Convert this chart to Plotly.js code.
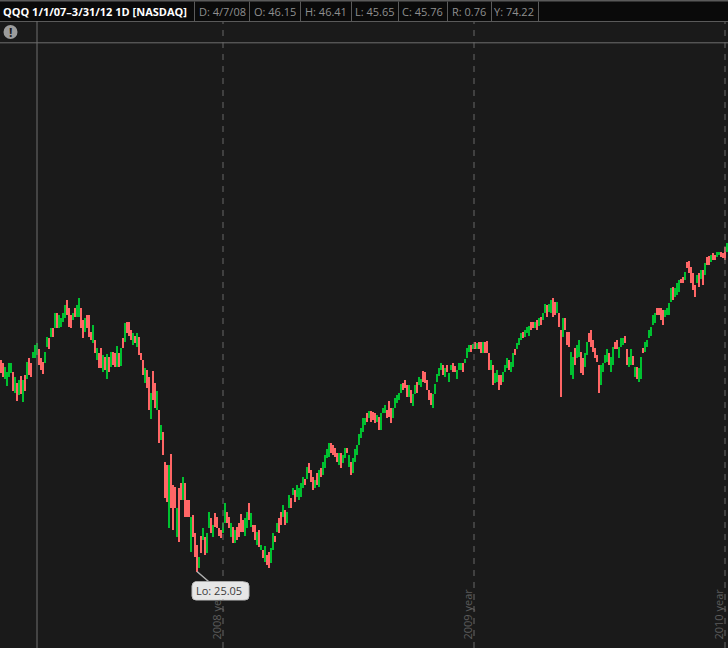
<!DOCTYPE html>
<html>
<head>
<meta charset="utf-8">
<script src="https://cdn.plot.ly/plotly-3.0.1.min.js"></script>
<style>html,body{margin:0;padding:0;background:#1a1a1a;overflow:hidden}#chart{width:728px;height:648px}</style>
</head>
<body>
<div id="chart"></div>
<script>
var highs = [
44.7,44.4,44.1,43.6,44.4,44.4,43.6,43.1,42.6,42.9,
43.2,42.9,43.3,44.5,44.9,44.4,45.5,46.1,46.3,45.7,
44.9,44.5,45.5,46.9,46.8,47.7,47.7,49.1,49.1,48.9,
48.6,49.1,49.8,50.3,49.6,48.9,49.1,49.6,49.8,50.5,
49.6,48.4,48.6,48.9,48.9,47.3,48.0,46.6,45.8,45.4,
45.8,45.2,45.0,45.3,45.0,45.5,45.5,45.4,46.0,45.4,
45.8,46.8,48.2,48.3,48.3,47.5,47.2,47.0,47.2,46.9,
45.4,44.7,44.0,43.8,43.1,41.7,43.7,42.6,41.8,40.1,
38.7,38.0,35.2,35.0,35.0,36.0,33.1,32.9,31.0,32.8,
33.3,33.8,33.3,31.7,31.7,30.1,30.3,28.6,27.5,26.4,
28.4,29.1,28.3,28.6,30.6,30.0,29.4,30.5,30.1,29.1,
28.9,29.6,31.4,30.6,30.1,29.6,29.2,28.9,29.2,29.6,
30.4,29.8,30.0,30.6,31.4,30.5,29.4,29.4,28.7,28.9,
27.5,27.1,27.4,26.6,26.9,27.2,28.6,28.4,29.6,30.0,
30.6,31.2,30.8,30.6,32.2,31.9,32.8,32.6,33.1,32.8,
33.3,33.8,33.7,34.8,35.1,34.5,33.8,33.6,34.2,34.5,
34.7,35.2,35.9,36.4,37.0,37.0,36.8,36.5,36.1,36.1,
36.1,35.9,36.5,36.5,35.9,35.2,35.6,36.4,36.8,37.8,
38.4,39.3,39.3,39.8,40.0,40.0,39.9,39.8,39.6,39.4,
39.8,40.3,40.5,40.1,40.9,40.3,40.3,41.2,41.5,41.7,
42.5,42.6,42.9,42.4,42.4,41.9,41.6,42.4,42.7,43.1,
43.0,43.7,43.6,42.9,41.9,41.7,41.6,42.5,43.4,44.0,
44.4,44.3,44.0,44.3,43.5,44.3,44.4,44.2,43.8,44.4,
44.4,44.4,44.8,45.8,46.1,46.1,46.2,46.4,46.3,
46.4,46.4,46.4,46.4,46.5,45.4,44.7,44.3,43.5,43.8,
43.3,43.3,43.6,44.3,44.9,44.7,44.5,45.4,45.7,46.3,
46.8,47.2,47.3,47.5,47.8,47.9,48.3,48.3,48.3,48.4,
48.6,48.7,49.1,49.9,49.8,49.9,50.3,50.5,50.1,50.1,
49.1,47.5,48.6,48.6,47.3,47.3,45.5,45.0,45.8,46.1,
46.6,45.5,44.9,45.4,46.4,47.2,47.5,46.6,45.8,45.2,44.3,
44.3,44.4,45.2,45.7,45.4,45.0,45.9,46.4,46.6,45.9,
46.8,46.8,47.0,45.7,45.0,45.7,45.1,44.1,44.1,44.0,
45.0,45.8,46.4,46.6,47.5,47.8,48.9,49.1,49.6,49.6,
49.6,49.4,49.4,49.6,50.0,51.4,51.5,51.4,51.9,52.2,
52.3,52.4,52.9,53.8,53.9,53.4,52.8,51.7,52.6,52.8,
53.1,53.1,53.7,54.3,54.4,54.5,54.7,54.5,54.8,54.8,
54.8,54.7,55.2,55.6
];
var lows = [
43.5,43.1,43.0,42.3,43.1,43.5,41.8,41.7,40.9,41.5,
41.6,40.8,41.8,43.0,43.3,43.1,44.9,44.9,45.2,44.3,
43.8,43.4,44.4,45.9,45.7,46.9,46.9,47.7,47.7,47.7,
47.8,48.3,48.6,48.9,47.8,47.7,48.4,48.7,48.7,48.7,
47.7,46.8,47.3,47.7,46.9,46.6,46.3,45.4,44.7,44.0,
44.0,43.6,43.8,43.0,43.6,44.1,44.3,44.1,44.1,44.1,
44.2,45.8,46.4,47.2,47.0,46.6,46.1,46.3,45.9,45.2,
44.7,43.3,42.6,42.1,40.1,39.2,41.0,40.3,40.1,37.0,
37.3,35.9,31.9,31.5,29.1,31.0,28.9,31.0,28.3,27.8,
31.7,31.7,30.1,30.1,30.1,26.9,28.3,26.4,25.05,25.4,
26.8,28.0,26.6,26.8,29.1,28.6,28.3,29.2,29.1,28.4,
28.2,28.6,29.6,29.6,29.1,28.3,27.7,27.7,28.0,28.3,
28.7,28.7,28.4,29.1,29.8,29.2,28.7,28.0,27.5,27.3,
27.1,26.3,25.9,25.7,25.4,25.8,27.1,27.8,28.7,28.6,
29.4,30.1,29.4,29.6,31.0,31.0,32.2,31.5,32.0,31.7,
32.0,32.8,33.1,33.7,34.2,33.4,32.6,32.8,33.1,32.9,
33.8,34.0,34.7,35.6,35.7,36.1,35.9,35.7,35.2,35.0,
34.7,35.1,35.6,36.1,34.8,34.0,34.2,35.2,35.9,36.8,
37.5,38.0,38.7,39.0,39.3,39.0,39.1,38.9,39.0,38.2,
38.2,39.8,39.8,39.3,39.4,38.9,39.3,40.3,40.7,41.0,
41.7,41.9,42.1,41.3,41.3,40.7,40.4,41.6,41.7,42.4,
42.2,42.7,42.6,41.9,41.0,40.5,40.3,41.6,42.7,43.2,
43.8,43.3,43.1,43.6,42.7,43.8,43.6,43.6,43.0,43.8,
43.8,43.6,44.4,44.9,45.5,45.5,45.7,45.7,45.7,
45.7,45.4,45.4,45.4,45.4,43.8,43.8,42.4,42.6,42.7,
41.9,42.4,42.7,43.6,44.0,43.8,43.6,44.1,45.2,45.7,
46.1,46.6,46.8,46.9,47.2,47.0,47.5,47.7,47.7,47.5,
47.9,48.0,48.4,49.1,48.7,49.2,49.1,48.7,48.9,49.1,
47.8,41.3,46.9,47.5,46.1,45.9,43.3,43.0,44.3,44.9,
45.0,43.5,43.3,44.1,45.2,46.4,45.9,45.5,44.9,44.5,41.7,
42.4,43.6,44.4,44.5,44.3,43.6,44.3,45.7,45.7,44.9,
45.9,46.1,46.3,44.3,44.1,44.3,44.3,43.1,43.0,42.7,
43.0,45.4,45.5,45.9,46.8,47.0,48.0,48.2,48.9,48.9,
48.4,48.0,48.7,48.9,48.9,50.1,50.3,50.6,50.8,51.0,
51.9,51.9,52.2,53.3,52.8,51.9,51.2,50.6,51.9,51.5,
52.3,51.7,52.6,53.6,53.6,53.8,54.0,54.0,54.3,54.5,
54.3,54.2,54.0,54.8
];
var upBars = [
0,0,1,1,1,1,0,1,0,1, 0,1,0,1,0,0,1,1,1,0, 0,0,1,1,0,1,0,1,0,1, 1,1,1,0,0,0,1,0,1,1, 0,0,1,0,0,0,1,0,1,0, 0,1,0,1,0,1,0,0,1,0,
1,0,1,0,0,0,1,0,1,0, 0,0,1,0,0,1,0,0,1,0, 1,0,0,0,1,0,0,0,1,0, 0,1,0,0,0,1,0,0,0,1, 0,1,0,1,1,0,1,0,0,0, 0,1,1,0,0,1,0,1,0,0,
0,0,1,1,0,1,0,0,1,0, 1,0,1,0,0,1,1,0,1,0, 0,1,0,1,1,0,1,0,1,1, 1,1,0,1,0,0,0,1,0,1, 0,1,1,1,1,0,0,0,0,1, 0,1,1,0,1,0,1,1,1,1,
1,1,1,0,1,0,0,0,1,0, 1,1,1,0,0,0,1,1,1,1, 1,0,0,0,1,0,1,1,0,1, 1,0,0,0,0,0,1,1,1,1, 1,0,1,0,1,1,0,0,1,1, 1,0,1,1,1,0,1,0,1,
0,0,1,0,0,0,1,0,1,1, 0,0,1,1,1,0,1,1,0,1, 1,1,0,1,1,1,0,0,1,0, 1,0,1,1,0,1,1,0,0,1, 0,0,1,0,0,0,1,1,0,1, 1,0,0,1,1,0,0,0,0,0,0,
1,1,1,1,0,1,1,0,0,1, 1,1,0,0,1,1,0,1,0,1, 1,0,1,1,1,1,1,1,0,0, 0,0,1,1,1,1,0,1,1,1, 0,0,1,0,0,0,0,0,1,0, 1,0,1,0,0,1,0,0,1,1, 0,0,0,1
];
var barIndex = highs.map(function(_, i){ return i; });
var yearBars = [111, 236.5, 362];
var yearLabels = ['2008 year', '2009 year', '2010 year'];
var headerTitle = 'QQQ 1/1/07\u20133/31/12 1D [NASDAQ]';
var headerCells = ['D: 4/7/08', 'O: 46.15', 'H: 46.41', 'L: 45.65', 'C: 45.76', 'R: 0.76', 'Y: 74.22'];
var cursorBar = 18;
var cursorPrice = 74.22;
var lowPrice = 25.05;
var lowBar = 98;

var W = 728, H = 648;
function px(x){ return x / W; }
function py(y){ return 1 - y / H; }

var FONT = '"Open Sans", "Noto Sans", sans-serif';
var UP = '#00c030', DOWN = '#ff6666';

var trace = {
  type: 'bar',
  x: barIndex,
  base: lows,
  y: highs.map(function(h, i){ return h - lows[i]; }),
  width: 1.3,
  marker: { color: upBars.map(function(u){ return u ? UP : DOWN; }), line: { width: 0 } },
  hoverinfo: 'skip'
};

var shapes = [
  { type:'rect', xref:'paper', yref:'paper', x0:0, x1:1, y0:py(21), y1:1, fillcolor:'#0a0a0a', line:{width:0}, layer:'above' },
  { type:'rect', xref:'paper', yref:'paper', x0:0, x1:1, y0:py(1.5), y1:1, fillcolor:'#5a5a5a', line:{width:0}, layer:'above' },
  { type:'line', xref:'paper', yref:'paper', x0:0, x1:1, y0:py(21.5), y1:py(21.5), line:{color:'#5a5a5a', width:1}, layer:'above' },
  { type:'line', xref:'paper', yref:'y', x0:0, x1:1, y0:cursorPrice, y1:cursorPrice, line:{color:'#6e6e6e', width:1}, layer:'above' },
  { type:'line', xref:'x', yref:'paper', x0:cursorBar, x1:cursorBar, y0:0, y1:py(21), line:{color:'#6e6e6e', width:1}, layer:'above' },
  { type:'circle', xref:'paper', yref:'paper', x0:px(3.5), x1:px(17.5), y0:py(39), y1:py(25), fillcolor:'#9c9c9c', line:{width:0}, layer:'above' },
  { type:'path', xref:'paper', yref:'paper',
    path:'M '+px(196)+' '+py(582)+' L '+px(245)+' '+py(582)+' Q '+px(249)+' '+py(582)+' '+px(249)+' '+py(586)+
         ' L '+px(249)+' '+py(596)+' Q '+px(249)+' '+py(600)+' '+px(245)+' '+py(600)+
         ' L '+px(196)+' '+py(600)+' Q '+px(192)+' '+py(600)+' '+px(192)+' '+py(596)+
         ' L '+px(192)+' '+py(586)+' Q '+px(192)+' '+py(582)+' '+px(196)+' '+py(582)+' Z',
    fillcolor:'#e6e6e6', line:{color:'#bdbdbd', width:1}, layer:'above' }
];

[194, 249, 300, 351, 398, 447, 491, 538].forEach(function(x){
  shapes.push({ type:'line', xref:'paper', yref:'paper', x0:px(x+0.5), x1:px(x+0.5), y0:py(21), y1:py(1.5), line:{color:'#5a5a5a', width:1}, layer:'above' });
});
yearBars.forEach(function(b){
  shapes.push({ type:'line', xref:'x', yref:'paper', x0:b, x1:b, y0:0, y1:py(22), line:{color:'#666666', width:1, dash:'6px,6px'}, layer:'above' });
});

var annotations = [
  { xref:'paper', yref:'paper', x:px(1), y:py(11.5), xanchor:'left', yanchor:'middle', showarrow:false,
    text:headerTitle, font:{family:FONT, size:11, color:'#ffffff', weight:700} },
  { xref:'paper', yref:'paper', x:px(10.5), y:py(32), xanchor:'center', yanchor:'middle', showarrow:false,
    text:'<b>!</b>', font:{family:FONT, size:12, color:'#1a1a1a'} }
];
[197, 252, 303, 353, 400, 450, 492].forEach(function(x, i){
  annotations.push({ xref:'paper', yref:'paper', x:px(x), y:py(11.5), xanchor:'left', yanchor:'middle', showarrow:false,
    text:headerCells[i], font:{family:FONT, size:11, color:'#8f8f8f'} });
});
yearBars.forEach(function(b, i){
  annotations.push({ xref:'x', yref:'paper', x:b, xshift:-7.5, y:py(614), xanchor:'center', yanchor:'middle', textangle:-90, showarrow:false,
    text:yearLabels[i], font:{family:FONT, size:11, color:'#5c5c5c'} });
});
annotations.push({ xref:'x', yref:'y', x:lowBar, y:lowPrice, ax:22, ay:19,
  showarrow:true, arrowhead:0, arrowwidth:1.5, arrowcolor:'#b0b0b0', standoff:0,
  text:'Lo: '+lowPrice.toFixed(2), font:{family:FONT, size:11, color:'#3c3c3c'},
  bgcolor:'#e6e6e6', borderpad:1, xanchor:'center', yanchor:'middle' });

var layout = {
  width: W, height: H,
  margin: {l:0, r:0, t:0, b:0, pad:0},
  paper_bgcolor: '#1a1a1a',
  plot_bgcolor: '#1a1a1a',
  showlegend: false,
  bargap: 0,
  xaxis: { range:[-0.5, 363.5], showgrid:false, zeroline:false, showticklabels:false, ticks:'', showline:false, fixedrange:true },
  yaxis: { range:[17.94, 78.2], showgrid:false, zeroline:false, showticklabels:false, ticks:'', showline:false, fixedrange:true },
  shapes: shapes,
  annotations: annotations
};

Plotly.newPlot('chart', [trace], layout, {displayModeBar:false, responsive:false});
</script>
</body>
</html>
